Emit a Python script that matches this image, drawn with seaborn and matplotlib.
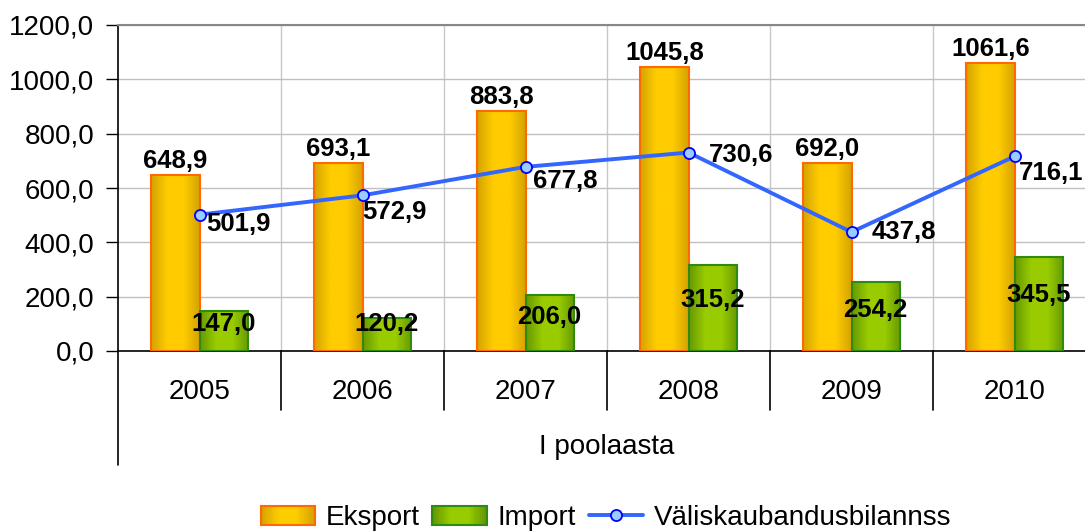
import matplotlib
matplotlib.use('Agg')
import matplotlib.pyplot as plt
import matplotlib.transforms as mtransforms
from matplotlib.colors import LinearSegmentedColormap
from matplotlib.patches import Rectangle
from matplotlib.lines import Line2D
from matplotlib.legend_handler import HandlerBase
from matplotlib.ticker import FuncFormatter
import seaborn as sns
import pandas as pd
import numpy as np

# andmed (mln eurot), I poolaasta
years = ['2005', '2006', '2007', '2008', '2009', '2010']
eksport = [648.9, 693.1, 883.8, 1045.8, 692.0, 1061.6]
import_ = [147.0, 120.2, 206.0, 315.2, 254.2, 345.5]
bilanss = [501.9, 572.9, 677.8, 730.6, 437.8, 716.1]
series_names = ['Eksport', 'Import', 'Väliskaubandusbilannss']
group_label = 'I poolaasta'

# joone siltide nihked pikslites (dx vasak serv, dy keskkoht)
line_label_offsets = [(7, -9), (0, -17), (8, -14), (20, -2), (20, 0), (4, -17)]

sns.set_theme(style='white')
plt.rcParams['font.family'] = ['Liberation Sans', 'DejaVu Sans']
plt.rcParams['text.color'] = 'black'
plt.rcParams['xtick.color'] = 'black'
plt.rcParams['ytick.color'] = 'black'
plt.rcParams['axes.labelcolor'] = 'black'

cmaps = {
    'Eksport': LinearSegmentedColormap.from_list('eks', ['#D4A300', '#FFCC00', '#FFCC00', '#D4A300']),
    'Import': LinearSegmentedColormap.from_list('imp', ['#669900', '#99CC00', '#99CC00', '#669900']),
}
edges = {'Eksport': '#FF6A00', 'Import': '#2E8B10'}
grad = np.linspace(0, 1, 200).reshape(1, -1)

df = pd.DataFrame({
    'aasta': years * 2,
    'vaartus': eksport + import_,
    'seeria': ['Eksport'] * len(years) + ['Import'] * len(years),
})

fig = plt.figure(figsize=(10.85, 5.31), dpi=100)
ax = fig.add_axes([118 / 1085, 1 - 351 / 531, 978 / 1085, 326 / 531])

sns.barplot(data=df, x='aasta', y='vaartus', hue='seeria', order=years,
            hue_order=['Eksport', 'Import'], palette=['#FFCC00', '#99CC00'],
            width=0.59, dodge=True, legend=False, ax=ax, zorder=3)

# gradient tulpadele
bars = list(ax.patches)
for i, p in enumerate(bars):
    name = 'Eksport' if i < len(years) else 'Import'
    x0, y0 = p.get_x(), p.get_y()
    w, h = p.get_width(), p.get_height()
    im = ax.imshow(grad, extent=[x0, x0 + w, y0, y0 + h], aspect='auto',
                   cmap=cmaps[name], zorder=3, interpolation='bilinear')
    im.set_clip_path(p)
    p.set_facecolor('none')
    p.set_edgecolor(edges[name])
    p.set_linewidth(1.5)
    p.set_zorder(4)

xpos = np.arange(len(years))
sns.lineplot(x=xpos, y=bilanss, ax=ax, color='#3366FF', linewidth=2.8,
             marker='o', markersize=8, markerfacecolor='#99CCFF',
             markeredgecolor='#0000FF', markeredgewidth=1.3, zorder=6)

ax.set_xlim(-0.5, len(years) - 0.5)
ax.set_ylim(0, 1200)
ax.set_yticks(np.arange(0, 1201, 200))
ax.yaxis.set_major_formatter(FuncFormatter(lambda v, _: f'{v:.1f}'.replace('.', ',')))
ax.grid(axis='y', color='#C0C0C0', linewidth=1, zorder=0)
ax.set_axisbelow(True)
for b in np.arange(0.5, len(years), 1):
    ax.axvline(b, color='#C8C8C8', linewidth=1, zorder=0.5)

ax.set_xlabel('')
ax.set_ylabel('')
ax.tick_params(axis='y', labelsize=20, length=9, width=1, color='black',
               direction='out', pad=8, left=True)
ax.tick_params(axis='x', labelsize=20, length=0, pad=20)
for s in ['left', 'bottom']:
    ax.spines[s].set_color('black')
    ax.spines[s].set_linewidth(1.2)
ax.spines['top'].set_color('#888888')
ax.spines['top'].set_linewidth(1.5)
ax.spines['right'].set_visible(False)

# kategooriate eraldajad telje all
trans = mtransforms.blended_transform_factory(ax.transData, ax.transAxes)
ax.plot([-0.5, -0.5], [0, -0.35], color='black', linewidth=1.2, transform=trans, clip_on=False)
for b in np.arange(0.5, len(years) + 0.5, 1):
    ax.plot([b, b], [0, -0.181], color='black', linewidth=1.2, transform=trans, clip_on=False)
ax.text((len(years) - 1) / 2, -0.295, group_label, transform=trans,
        ha='center', va='center', fontsize=20)

# andmesildid
for i, p in enumerate(bars):
    cx = p.get_x() + p.get_width() / 2
    v = p.get_height()
    if i < len(years):
        ax.annotate(f'{v:.1f}'.replace('.', ','), (cx, v), xytext=(0, 2),
                    textcoords='offset pixels', ha='center', va='bottom',
                    fontsize=18.5, fontweight='bold', zorder=8)
    else:
        ax.text(cx, max(0.6 * v, 100), f'{v:.1f}'.replace('.', ','),
                ha='center', va='center', fontsize=18.5, fontweight='bold', zorder=8)
for x, v, (dx, dy) in zip(xpos, bilanss, line_label_offsets):
    ax.annotate(f'{v:.1f}'.replace('.', ','), (x, v), xytext=(dx, dy),
                textcoords='offset pixels', ha='left', va='center',
                fontsize=18.5, fontweight='bold', zorder=8)


class GradientHandler(HandlerBase):
    def __init__(self, cmap, edge):
        super().__init__()
        self.cmap, self.edge = cmap, edge

    def create_artists(self, legend, orig_handle, xdescent, ydescent, width,
                       height, fontsize, trans):
        arts = []
        n = 24
        hh = height * 1.0
        y0 = -ydescent + (height - hh) / 2
        for k in range(n):
            r = Rectangle((-xdescent + width * k / n, y0), width / n + 0.2, hh,
                          facecolor=self.cmap(k / (n - 1)), edgecolor='none',
                          transform=trans)
            arts.append(r)
        arts.append(Rectangle((-xdescent, y0), width, hh, facecolor='none',
                              edgecolor=self.edge, linewidth=1.5, transform=trans))
        return arts


h_eks = Rectangle((0, 0), 1, 1)
h_imp = Rectangle((0, 0), 1, 1)
h_line = Line2D([], [], color='#3366FF', linewidth=2.8, marker='o', markersize=8,
                markerfacecolor='#99CCFF', markeredgecolor='#0000FF', markeredgewidth=1.3)
fig.legend([h_eks, h_imp, h_line], series_names, loc='center',
           bbox_to_anchor=(606 / 1085, 1 - 518 / 531), ncol=3, frameon=False,
           fontsize=20, handlelength=1.95, handletextpad=0.4, columnspacing=0.45,
           borderpad=0, borderaxespad=0,
           handler_map={h_eks: GradientHandler(cmaps['Eksport'], edges['Eksport']),
                        h_imp: GradientHandler(cmaps['Import'], edges['Import'])})

fig.savefig('out.png', dpi=100)
